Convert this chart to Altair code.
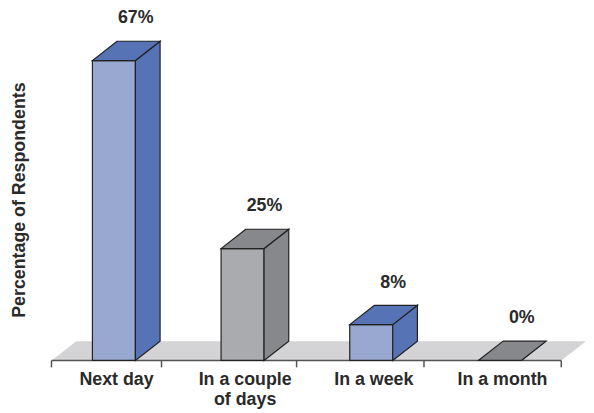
import altair as alt
import pandas as pd

# ---- data ----
categories = ["Next day", "In a couple\nof days", "In a week", "In a month"]
values = [67, 25, 8, 0]
y_title = "Percentage of Respondents"
tick_positions = [-0.485, 0.37, 1.42, 2.41, 3.477]

# ---- style ----
FRONT = ["#98A8D0", "#AAABAE", "#98A8D0", "#AAABAE"]
SIDE = ["#5573B5", "#87888B", "#5573B5", "#87888B"]
TOP = ["#5573B5", "#87888B", "#5573B5", "#87888B"]
FLOOR = "#D4D4D6"
EDGE = "#222222"
AXIS = "#555555"
TEXT = "#2A2A2A"
FONT = "Liberation Sans"

W, H = 540, 354
X_DOMAIN = [-63 / 130, (W - 63) / 130]
Y_DOMAIN = [0, 78.28]
HW = 0.167   # half bar width (x units)
DX = 0.192   # depth offset (x units)
DY = 4.31    # depth offset (y units)
FLOOR_X = [-0.4846, 3.477]

xs = alt.Scale(domain=X_DOMAIN, nice=False, zero=False)
ys = alt.Scale(domain=Y_DOMAIN, nice=False, zero=False)

bars = pd.DataFrame({"cat": categories, "idx": list(range(len(categories))), "value": values})
bars["x0"] = bars["idx"] - HW
bars["x1"] = bars["idx"] + HW
bars["base"] = 0.0
bars["lx"] = bars["idx"] + 0.17
bars["ly"] = bars["value"] + DY
bars["cx"] = bars["idx"] + 0.02
bars["label"] = [f"{v}%" for v in values]

side_rows, top_rows = [], []
for i, (c, v) in enumerate(zip(categories, values)):
    side_rows.append({"cat": c, "x": i + HW, "y": v, "y2": 0.0})
    side_rows.append({"cat": c, "x": i + HW + DX, "y": v + DY, "y2": DY})
    top_rows.append({"cat": c, "y": v, "x": i - HW, "x2": i + HW})
    top_rows.append({"cat": c, "y": v + DY, "x": i - HW + DX, "x2": i + HW + DX})
side_df = pd.DataFrame(side_rows)
top_df = pd.DataFrame(top_rows)

floor_df = pd.DataFrame({
    "y": [0.0, DY],
    "x": [FLOOR_X[0], FLOOR_X[0] + DX],
    "x2": [FLOOR_X[1], FLOOR_X[1] + DX],
})

floor = alt.Chart(floor_df).mark_area(orient="horizontal", color=FLOOR, opacity=1).encode(
    y=alt.Y("y:Q", scale=ys, axis=None),
    x=alt.X("x:Q", scale=xs, axis=None),
    x2="x2:Q",
)

axis_line = alt.Chart(pd.DataFrame({"x": [FLOOR_X[0]], "x2": [FLOOR_X[1]], "y": [0.0]})).mark_rule(
    color=AXIS, strokeWidth=1.5
).encode(
    x=alt.X("x:Q", scale=xs, axis=None), x2="x2:Q", y=alt.Y("y:Q", scale=ys, axis=None)
)

ticks = alt.Chart(pd.DataFrame({"t": tick_positions})).mark_rule(color=AXIS, strokeWidth=1.5).encode(
    x=alt.X("t:Q", scale=xs, axis=None), y=alt.value(H), y2=alt.value(H + 7)
)

front = alt.Chart(bars).mark_rect(stroke=EDGE, strokeWidth=1.2, opacity=1).encode(
    x=alt.X("x0:Q", scale=xs, axis=None), x2="x1:Q",
    y=alt.Y("value:Q", scale=ys, axis=None), y2="base:Q",
    color=alt.Color("cat:N", scale=alt.Scale(domain=categories, range=FRONT), legend=None),
)

side = alt.Chart(side_df).mark_area(stroke=EDGE, strokeWidth=1.2, opacity=1).encode(
    x=alt.X("x:Q", scale=xs, axis=None),
    y=alt.Y("y:Q", scale=ys, axis=None), y2="y2:Q",
    detail="cat:N",
    fill=alt.Fill("cat:N", scale=alt.Scale(domain=categories, range=SIDE), legend=None),
)

top = alt.Chart(top_df).mark_area(orient="horizontal", stroke=EDGE, strokeWidth=1.2, opacity=1).encode(
    y=alt.Y("y:Q", scale=ys, axis=None),
    x=alt.X("x:Q", scale=xs, axis=None), x2="x2:Q",
    detail="cat:N",
    fill=alt.Fill("cat:N", scale=alt.Scale(domain=categories, range=TOP), legend=None),
)

pct = alt.Chart(bars).mark_text(
    font=FONT, fontSize=18, fontWeight="bold", color=TEXT, baseline="alphabetic", dy=-18
).encode(
    x=alt.X("lx:Q", scale=xs, axis=None), y=alt.Y("ly:Q", scale=ys, axis=None), text="label:N"
)

cat_labels = alt.Chart(bars).mark_text(
    font=FONT, fontSize=18, fontWeight="bold", color=TEXT, baseline="alphabetic",
    lineBreak="\n", lineHeight=20
).encode(
    x=alt.X("cx:Q", scale=xs, axis=None), y=alt.value(H + 25), text="cat:N"
)

ytitle = alt.Chart(pd.DataFrame({"t": [y_title]})).mark_text(
    font=FONT, fontSize=18, fontWeight="bold", color=TEXT, angle=270,
    align="center", baseline="middle"
).encode(x=alt.value(-32), y=alt.value(192), text="t:N")

chart = alt.layer(floor, axis_line, ticks, front, side, top, pct, cat_labels, ytitle).properties(
    width=W, height=H,
    autosize=alt.AutoSizeParams(type="none"),
    padding={"left": 44, "top": 0, "right": 0, "bottom": 49},
    background="white",
).configure_view(stroke=None)

chart.save("out.html", embed_options={"renderer": "svg", "actions": False})
